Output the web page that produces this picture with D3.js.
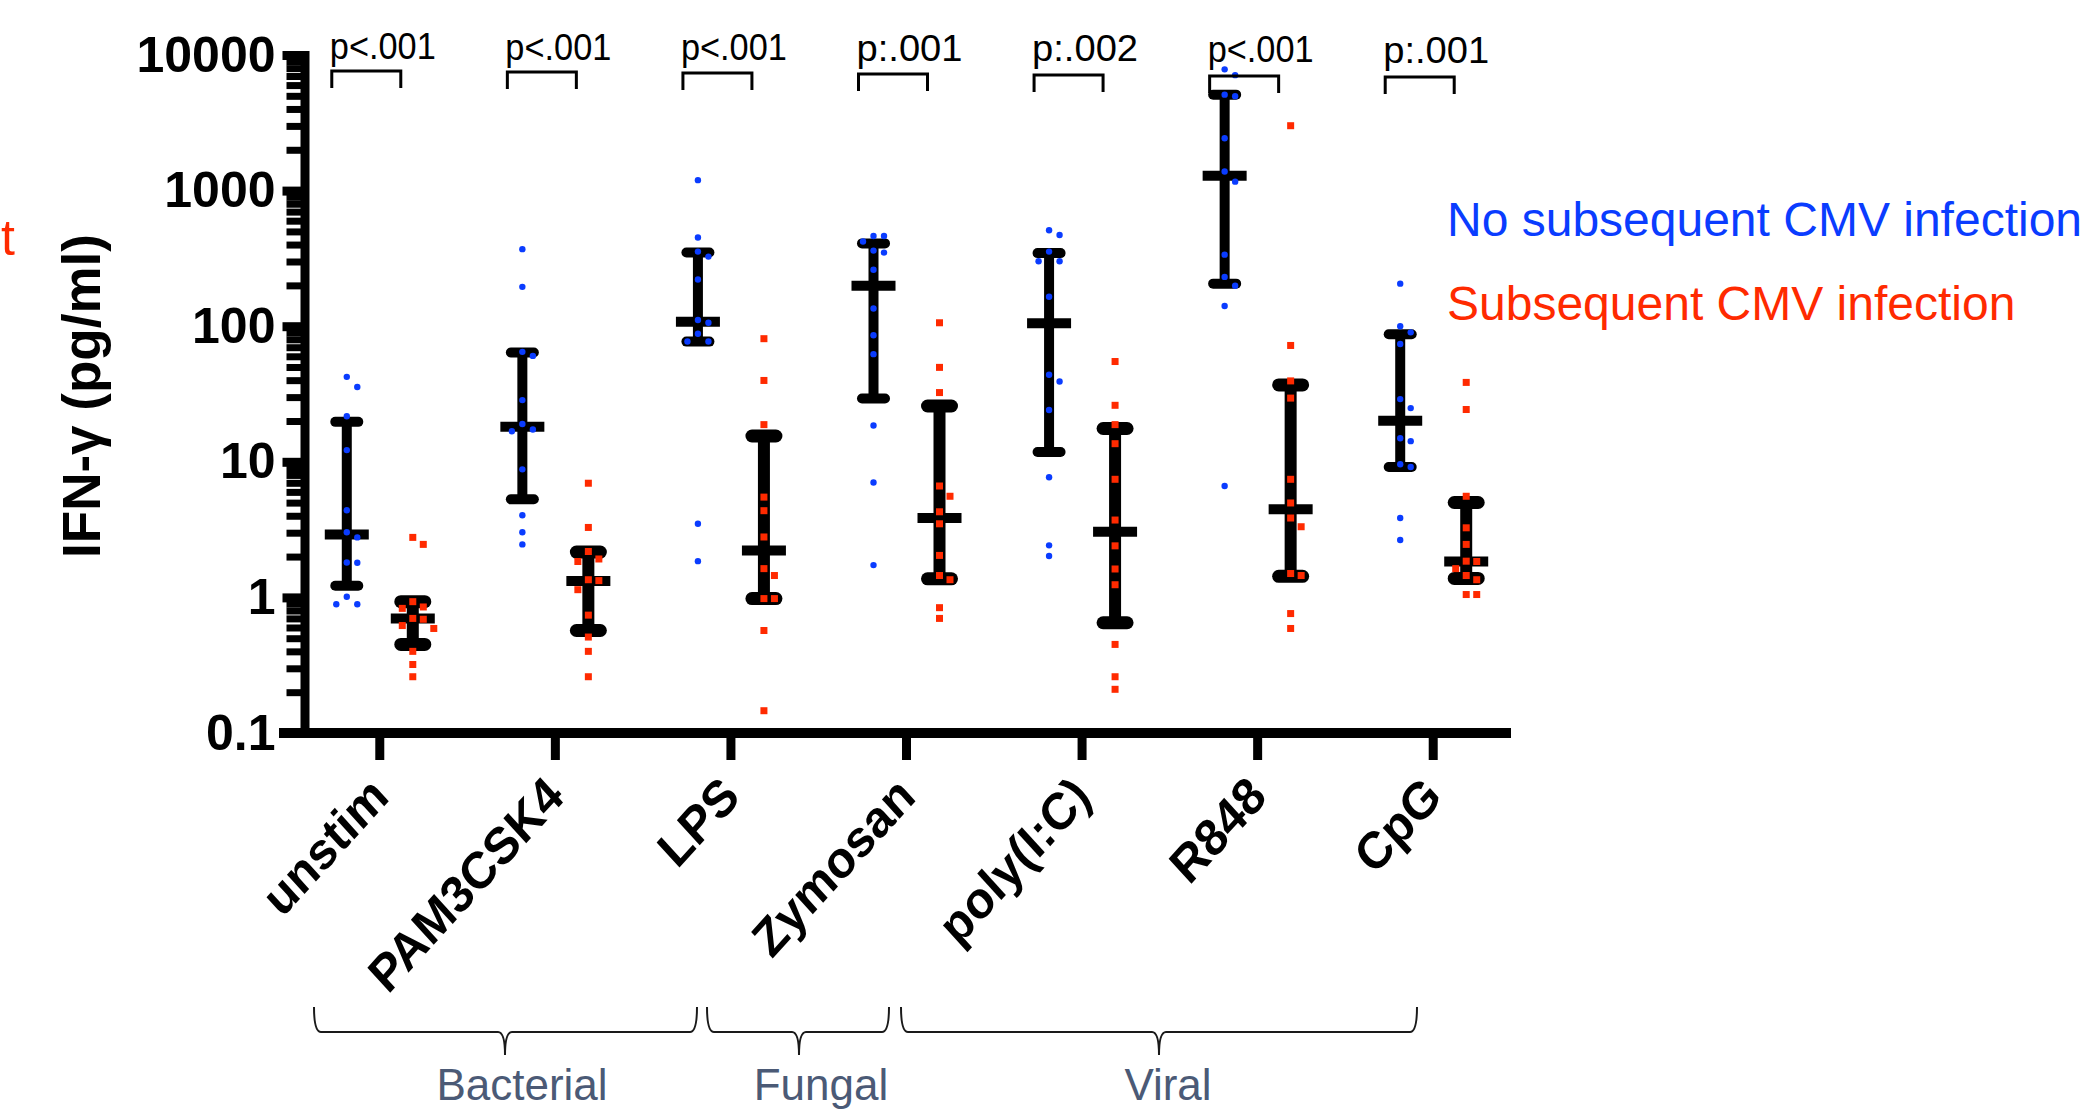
<!DOCTYPE html>
<html>
<head>
<meta charset="utf-8">
<script src="https://cdn.jsdelivr.net/npm/d3@7"></script>
<style>
  body { margin: 0; background: #fff; }
  svg { display: block; font-family: "Liberation Sans", Arial, Helvetica, sans-serif; }
</style>
</head>
<body>
<svg width="2091" height="1113"></svg>
<script>
// stimuli on the x axis
const categories = ["unstim", "PAM3CSK4", "LPS", "Zymosan", "poly(I:C)", "R848", "CpG"];
const pLabels = ["p<.001", "p<.001", "p<.001", "p:.001", "p:.002", "p<.001", "p:.001"];
const yTicks = [0.1, 1, 10, 100, 1000, 10000];
const groupLabels = ["Bacterial", "Fungal", "Viral"];
const seriesNames = ["No subsequent CMV infection", "Subsequent CMV infection"];

// IFN-g (pg/ml), one list per stimulus - no subsequent CMV infection
const noCmv = [
  [42.3, 35.6, 21.7, 12.2, 4.39, 3.02, 2.77, 1.81, 1.80, 1.01, 0.89, 0.89],
  [370, 195, 64.7, 60.4, 28.5, 19.0, 17.3, 16.8, 8.8, 4.03, 3.02, 2.46],
  [1194, 451, 355, 326, 221, 111, 106, 87.9, 77.1, 77.1, 3.49, 1.85],
  [462, 462, 421, 361, 349, 261, 135, 85.8, 62.2, 18.5, 7.03, 1.73],
  [510, 470, 355, 301, 301, 165, 43.9, 39.1, 24.1, 7.69, 2.42, 2.02],
  [7840, 7100, 5100, 4970, 2430, 1384, 1164, 337, 231, 199, 141, 6.63],
  [206, 100, 90.1, 73.9, 29.0, 24.9, 14.9, 14.2, 9.6, 9.15, 3.85, 2.65]
];
const noMedian = [2.91, 18.1, 108, 199, 105, 1286, 20.1];
const noLow = [1.22, 5.29, 77, 29.3, 11.8, 206, 9.15];
const noHigh = [19.7, 64, 350, 408, 346, 5100, 87.1];

// subsequent CMV infection
const cmv = [
  [2.77, 2.46, 0.93, 0.85, 0.83, 0.70, 0.69, 0.62, 0.59, 0.40, 0.32, 0.26],
  [6.95, 3.28, 2.18, 1.92, 1.84, 1.35, 1.33, 1.14, 0.74, 0.51, 0.40, 0.26],
  [80.9, 39.8, 18.8, 5.49, 4.36, 2.79, 1.63, 1.45, 0.98, 0.98, 0.57, 0.146],
  [106, 49.7, 32.4, 6.63, 5.57, 4.28, 3.49, 2.04, 1.45, 1.35, 0.84, 0.70],
  [54.9, 26.1, 18.8, 13.6, 7.43, 3.72, 2.40, 1.62, 1.24, 0.45, 0.26, 0.21],
  [3010, 72.1, 39.5, 29.5, 7.43, 4.97, 3.85, 3.32, 1.50, 1.45, 0.76, 0.59],
  [38.5, 24.3, 5.57, 3.26, 2.46, 1.85, 1.84, 1.63, 1.45, 1.35, 1.05, 1.05]
];
const cmvMedian = [0.70, 1.32, 2.22, 3.85, 3.05, 4.46, 1.84];
const cmvLow = [0.45, 0.57, 0.98, 1.37, 0.65, 1.43, 1.38];
const cmvHigh = [0.93, 2.16, 15.5, 25.8, 17.6, 36.9, 5.01];

const blue = "#0a3cff";
const red = "#ff2a00";

const svg = d3.select("svg");

const x = d3.scaleBand().domain(categories).range([292, 1521]);
const sub = d3.scalePoint().domain(["no", "cmv"]).range([-33, 33]);
const y = d3.scaleLog().domain([0.1, 10000]).range([733, 55]);
const cx = c => x(c) + x.bandwidth() / 2;

// y axis, major ticks
const yAxisG = svg.append("g")
    .attr("transform", "translate(304.5,0)")
    .call(d3.axisLeft(y).tickValues(yTicks).tickSize(22).tickSizeOuter(0).tickPadding(7)
        .tickFormat(d => d >= 1 ? d3.format("d")(d) : d));
yAxisG.select(".domain").attr("stroke-width", 9).attr("stroke-linecap", "square");
yAxisG.selectAll(".tick line").attr("stroke-width", 9);
yAxisG.selectAll(".tick text")
    .attr("font-size", 50).attr("font-weight", "bold")
    .attr("font-family", "Liberation Sans, Arial, sans-serif").attr("fill", "#000");

// minor ticks
const minors = [];
yTicks.slice(0, -1).forEach(t => { for (let k = 2; k <= 9; k++) minors.push(t * k); });
svg.append("g").attr("transform", "translate(304.5,0)")
    .call(d3.axisLeft(y).tickValues(minors).tickSize(18).tickSizeOuter(0).tickFormat(""))
    .call(g => g.select(".domain").remove())
    .selectAll(".tick line").attr("stroke-width", 7);

// y title
svg.append("text")
    .attr("transform", "translate(100,396) rotate(-90)")
    .attr("text-anchor", "middle")
    .attr("font-size", 53).attr("font-weight", "bold")
    .text("IFN-γ (pg/ml)");

// x axis
const xAxisG = svg.append("g")
    .attr("transform", "translate(0,733)")
    .call(d3.axisBottom(x).tickSize(27).tickSizeOuter(0));
xAxisG.select(".domain").remove();
xAxisG.append("line").attr("x1", 279).attr("x2", 1511).attr("stroke", "#000").attr("stroke-width", 10);
xAxisG.selectAll(".tick line").attr("stroke-width", 9);
xAxisG.selectAll(".tick text")
    .attr("font-size", 47).attr("font-weight", "bold")
    .attr("font-family", "Liberation Sans, Arial, sans-serif").attr("fill", "#000")
    .attr("text-anchor", "end")
    .attr("y", 0).attr("dy", 0)
    .attr("transform", "translate(11,66) scale(1,1.1) rotate(-45)");

// error bars: median with interquartile range
const series = [
  {key: "no", values: noCmv, med: noMedian, lo: noLow, hi: noHigh, color: blue, lw: 10, capW: 23, capT: 10},
  {key: "cmv", values: cmv, med: cmvMedian, lo: cmvLow, hi: cmvHigh, color: red, lw: 12, capW: 24, capT: 13}
];

series.forEach(s => {
  const g = svg.append("g");
  categories.forEach((c, i) => {
    const px = cx(c) + sub(s.key);
    g.append("line").attr("x1", px).attr("x2", px)
        .attr("y1", y(s.hi[i])).attr("y2", y(s.lo[i]))
        .attr("stroke", "#000").attr("stroke-width", s.lw);
    [s.hi[i], s.lo[i]].forEach(v => {
      g.append("line").attr("x1", px - s.capW / 2).attr("x2", px + s.capW / 2)
          .attr("y1", y(v)).attr("y2", y(v))
          .attr("stroke", "#000").attr("stroke-width", s.capT).attr("stroke-linecap", "round");
    });
    g.append("line").attr("x1", px - 22).attr("x2", px + 22)
        .attr("y1", y(s.med[i])).attr("y2", y(s.med[i]))
        .attr("stroke", "#000").attr("stroke-width", 10);
  });
});

// scatter points, spread sideways where they would overlap
function spread(vals) {
  const placed = [];
  const step = 10.5, minD = 10.5;
  vals.map(v => y(v)).sort((a, b) => a - b).forEach(py => {
    for (let k = 0; k < 12; k++) {
      const off = k === 0 ? 0 : (k % 2 ? 1 : -1) * Math.ceil(k / 2) * step;
      if (placed.every(p => Math.hypot(p.dx - off, p.y - py) >= minD)) {
        placed.push({dx: off, y: py});
        break;
      }
    }
  });
  return placed;
}

series.forEach(s => {
  const g = svg.append("g");
  categories.forEach((c, i) => {
    const px = cx(c) + sub(s.key);
    const pts = spread(s.values[i]);
    if (s.key === "no") {
      g.selectAll(null).data(pts).enter().append("circle")
          .attr("cx", d => px + d.dx).attr("cy", d => d.y).attr("r", 3.2)
          .attr("fill", s.color);
    } else {
      g.selectAll(null).data(pts).enter().append("rect")
          .attr("x", d => px + d.dx - 3.5).attr("y", d => d.y - 3.5)
          .attr("width", 7).attr("height", 7)
          .attr("fill", s.color);
    }
  });
});

// significance brackets
const sig = svg.append("g");
categories.forEach((c, i) => {
  const left = cx(c) - 48;
  const top = 71 + i;
  sig.append("path")
      .attr("d", `M${left},${top + 17}V${top}H${left + 69}V${top + 17}`)
      .attr("fill", "none").attr("stroke", "#000").attr("stroke-width", 3);
  sig.append("text")
      .attr("x", left - 2).attr("y", 59 + i * 0.6)
      .attr("font-size", 37)
      .attr("textLength", 106).attr("lengthAdjust", "spacingAndGlyphs")
      .text(pLabels[i]);
});

// legend
svg.append("text").attr("x", 1447).attr("y", 236).attr("font-size", 48)
    .attr("fill", blue).text(seriesNames[0]);
svg.append("text").attr("x", 1447).attr("y", 320).attr("font-size", 48)
    .attr("fill", red).text(seriesNames[1]);
// clipped fragment at left edge
svg.append("text").attr("x", 1).attr("y", 255).attr("font-size", 50)
    .attr("fill", red).text("t");

// pathogen braces
const braceLayout = [
  {x1: 314, x2: 697, xm: 505, tx: 522},
  {x1: 707, x2: 889, xm: 799, tx: 821},
  {x1: 901, x2: 1417, xm: 1159, tx: 1168}
];
const yTop = 1007, yLine = 1032, yTip = 1055;
braceLayout.forEach((b, i) => {
  svg.append("path")
      .attr("d", `M${b.x1},${yTop} Q${b.x1},${yLine} ${b.x1 + 7},${yLine} L${b.xm - 7},${yLine} ` +
                 `Q${b.xm},${yLine} ${b.xm},${yTip} Q${b.xm},${yLine} ${b.xm + 7},${yLine} ` +
                 `L${b.x2 - 7},${yLine} Q${b.x2},${yLine} ${b.x2},${yTop}`)
      .attr("fill", "none").attr("stroke", "#1a1a1a").attr("stroke-width", 2);
  svg.append("text").attr("x", b.tx).attr("y", 1100)
      .attr("text-anchor", "middle").attr("font-size", 44)
      .attr("fill", "#4b5a76").text(groupLabels[i]);
});
</script>
</body>
</html>
